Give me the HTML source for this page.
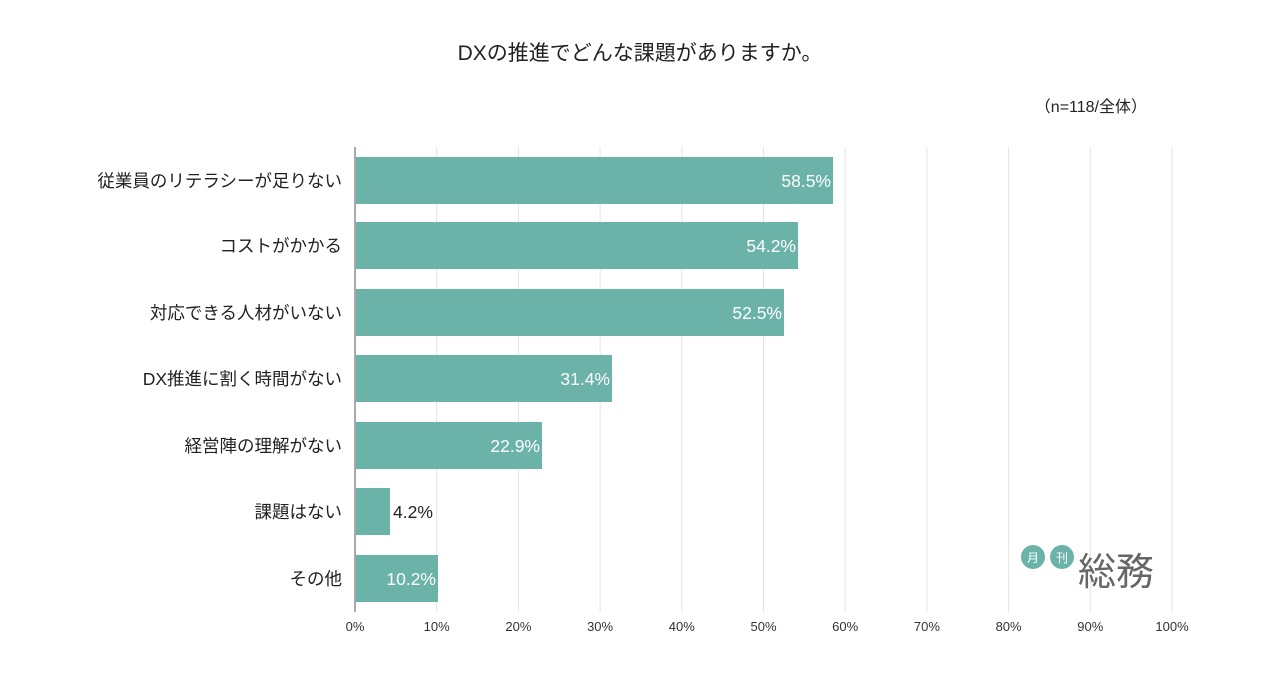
<!DOCTYPE html>
<html><head><meta charset="utf-8"><style>
body{margin:0;width:1280px;height:691px;background:#fff;font-family:"Liberation Sans","Noto Sans CJK JP",sans-serif;overflow:hidden}
</style></head><body>
<svg width="1280" height="691" xmlns="http://www.w3.org/2000/svg" font-family="Liberation Sans, Noto Sans CJK JP, sans-serif">
<text x="640" y="60" font-size="21" text-anchor="middle" fill="#222">DXの推進でどんな課題がありますか。</text>
<text x="1147" y="112" font-size="16" text-anchor="end" fill="#222">（n=118/全体）</text>
<g stroke="#e3e3e3" stroke-width="1">
<line x1="436.7" y1="147" x2="436.7" y2="612"/><line x1="518.4" y1="147" x2="518.4" y2="612"/><line x1="600.1" y1="147" x2="600.1" y2="612"/><line x1="681.8" y1="147" x2="681.8" y2="612"/><line x1="763.5" y1="147" x2="763.5" y2="612"/><line x1="845.2" y1="147" x2="845.2" y2="612"/><line x1="926.9" y1="147" x2="926.9" y2="612"/><line x1="1008.6" y1="147" x2="1008.6" y2="612"/><line x1="1090.3" y1="147" x2="1090.3" y2="612"/><line x1="1172" y1="147" x2="1172" y2="612"/>
</g>
<line x1="355" y1="147" x2="355" y2="612" stroke="#555" stroke-width="1"/>
<g fill="#6bb3a9">
<rect x="356" y="157" width="477" height="47"/>
<rect x="356" y="222" width="442" height="47"/>
<rect x="356" y="289" width="428" height="47"/>
<rect x="356" y="355" width="256" height="47"/>
<rect x="356" y="422" width="186" height="47"/>
<rect x="356" y="488" width="34" height="47"/>
<rect x="356" y="555" width="82" height="47"/>
</g>
<g font-size="17.5" fill="#fff" text-anchor="end">
<text x="831" y="187">58.5%</text><text x="796" y="252">54.2%</text><text x="782" y="319">52.5%</text><text x="610" y="385">31.4%</text><text x="540" y="452">22.9%</text><text x="436" y="585">10.2%</text>
</g>
<text x="393" y="518" font-size="17.5" fill="#222">4.2%</text>
<g font-size="17.5" fill="#222" text-anchor="end">
<text x="342" y="187">従業員のリテラシーが足りない</text>
<text x="342" y="252">コストがかかる</text>
<text x="342" y="319">対応できる人材がいない</text>
<text x="342" y="385">DX推進に割く時間がない</text>
<text x="342" y="452">経営陣の理解がない</text>
<text x="342" y="518">課題はない</text>
<text x="342" y="585">その他</text>
</g>
<g font-size="13" fill="#333" text-anchor="middle">
<text x="355" y="631">0%</text><text x="436.7" y="631">10%</text><text x="518.4" y="631">20%</text><text x="600.1" y="631">30%</text><text x="681.8" y="631">40%</text><text x="763.5" y="631">50%</text><text x="845.2" y="631">60%</text><text x="926.9" y="631">70%</text><text x="1008.6" y="631">80%</text><text x="1090.3" y="631">90%</text><text x="1172" y="631">100%</text>
</g>
<circle cx="1033" cy="557" r="12" fill="#6bb3a9"/><circle cx="1062" cy="557" r="12" fill="#6bb3a9"/>
<text x="1033" y="562" font-size="12" fill="#fff" text-anchor="middle">月</text>
<text x="1062" y="562" font-size="12" fill="#fff" text-anchor="middle">刊</text>
<text x="1078" y="585" font-size="38" fill="#666">総務</text>
</svg>
</body></html>
